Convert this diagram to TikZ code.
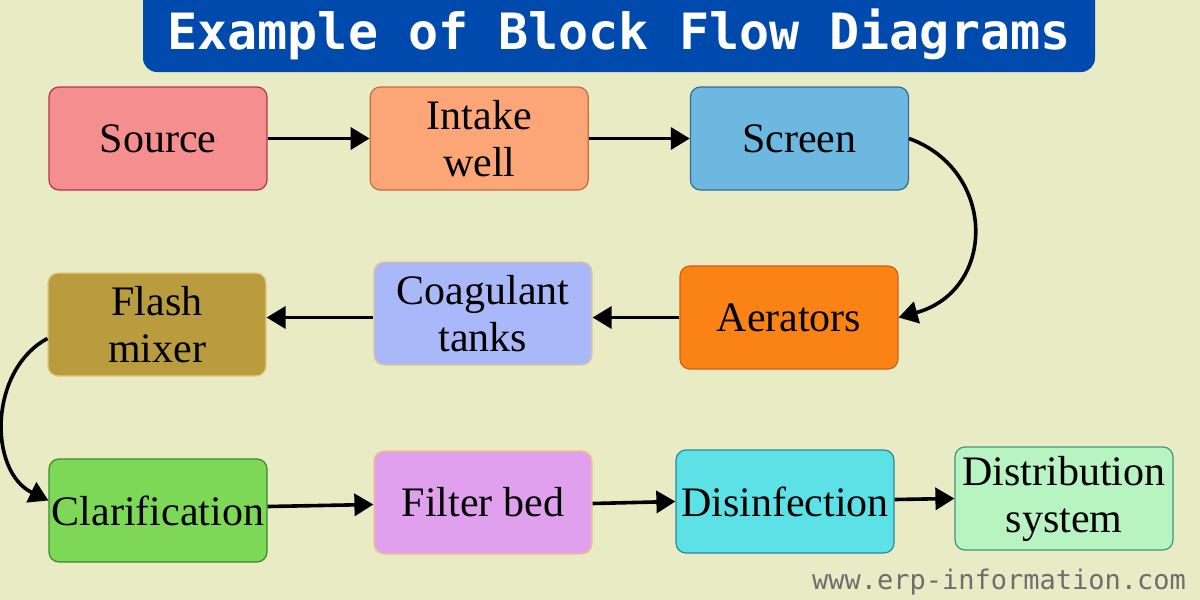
\documentclass[tikz,border=0pt]{standalone}
\usepackage{fontspec}
\setmainfont{Liberation Serif}
\newfontfamily\monofont{DejaVu Sans Mono}
\usetikzlibrary{positioning}
\usetikzlibrary{arrows.meta}
\usetikzlibrary{calc}

\definecolor{bgcol}{HTML}{E9EBC5}
\definecolor{bannercol}{HTML}{004AAD}
\definecolor{webcol}{HTML}{6E6E6E}

\begin{document}
\begin{tikzpicture}[
    x=0.5pt, y=-0.5pt,
    block/.style={align=center, rectangle, rounded corners=5pt, draw, line width=0.6pt, minimum width=109pt, minimum height=51.5pt, inner sep=1pt, font=\fontsize{21}{23.5}\selectfont},
    flow/.style={line width=1.8pt, -{Triangle[length=9.5pt, width=11pt]}}
]
    \fill[bgcol] (0,0) rectangle (1200,600);
    \useasboundingbox (0,0) rectangle (1200,600);

    % Title
    \fill[bannercol, rounded corners=7pt] (143,-20) rectangle (1095,72);
    \node[text=white, font=\monofont\bfseries\fontsize{25}{25}\selectfont] (title) at (619,34) {Example of Block Flow Diagrams};

    % First row
    \node[block, fill={rgb,255:red,245;green,142;blue,142}, draw={rgb,255:red,180;green,50;blue,80}] (source) at (158,138.5) {Source};
    \node[block, fill={rgb,255:red,252;green,165;blue,119}, draw={rgb,255:red,192;green,112;blue,58}] (intake) [right=51pt of source] {Intake\\well};
    \node[block, fill={rgb,255:red,108;green,184;blue,224}, draw={rgb,255:red,58;green,106;blue,144}] (screen) [right=50.5pt of intake] {Screen};

    % Second row
    \node[block, fill={rgb,255:red,251;green,130;blue,20}, draw={rgb,255:red,208;green,96;blue,16}] (aerators) at (789,317.5) {Aerators};
    \node[block, fill={rgb,255:red,168;green,184;blue,248}, draw={rgb,255:red,232;green,200;blue,144}] (coag) at (483,313.5) {Coagulant\\tanks};
    \node[block, fill={rgb,255:red,184;green,156;blue,62}, draw={rgb,255:red,232;green,200;blue,128}] (flash) at (157,324.5) {Flash\\mixer};

    % Third row
    \node[block, fill={rgb,255:red,124;green,216;blue,86}, draw={rgb,255:red,58;green,138;blue,42}] (clar) at (158,510.5) {Clarification};
    \node[block, fill={rgb,255:red,224;green,160;blue,238}, draw={rgb,255:red,240;green,200;blue,128}] (filter) at (483,502.5) {Filter bed};
    \node[block, fill={rgb,255:red,92;green,226;blue,230}, draw={rgb,255:red,42;green,138;blue,154}] (disinf) at (785,501.5) {Disinfection};
    \node[block, fill={rgb,255:red,184;green,244;blue,194}, draw={rgb,255:red,58;green,154;blue,122}] (distrib) at (1064,498.5) {Distribution\\system};

    % Watermark
    \node[text=webcol, font=\monofont\fontsize{13.5}{13.5}\selectfont] (web) at (999,582) {www.erp-information.com};

    % Connections
    \draw[flow] (source) -- (intake);
    \draw[flow] (intake) -- (screen);
    \draw[flow] (screen.east) .. controls +(88,32) and +(98,-27) .. (aerators.east);
    \draw[flow] (aerators) -- (coag.east |- aerators);
    \draw[flow] (coag.west |- aerators) -- (flash.east |- aerators);
    \draw[flow] ([yshift=-7pt]flash.west) .. controls +(-59,32) and +(-60,-29) .. ([yshift=5pt]clar.west);
    \draw[flow] ([yshift=2pt]clar.east) -- ([yshift=-1pt]filter.west);
    \draw[flow] ([yshift=-0.5pt]filter.east) -- (disinf.west);
    \draw[flow] ([yshift=1pt]disinf.east) -- (distrib.west);
\end{tikzpicture}
\end{document}
